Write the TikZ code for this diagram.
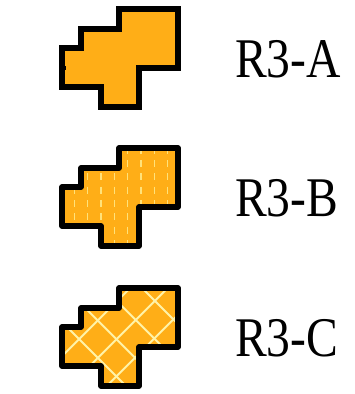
\documentclass[tikz,border=0pt]{standalone}
\usepackage{fontspec}
\setmainfont{Liberation Serif}
\definecolor{fillor}{HTML}{FFAE17}
\definecolor{dashy}{HTML}{FFE27A}
\definecolor{crossy}{HTML}{FFF3A8}
\tikzset{
  lab/.style={anchor=base west,inner sep=0pt,font=\fontsize{56}{56}\selectfont,xscale=.85},
  outlineA/.style={draw=black,line width=5.6pt,miter limit=10},
  outlineR/.style={draw=black,line width=5.6pt,line join=round},
  dashhatch/.style={dashy,line width=1.1pt,dash pattern=on 7pt off 6.33pt},
  crosshatch/.style={crossy,line width=2pt}
}
\def\blob{(62,48) -- (81,48) -- (81,29) -- (119,29) -- (119,9) -- (178,9) -- (178,68) -- (139,68) -- (139,107) -- (101,107) -- (101,87) -- (62,87) -- cycle}
\begin{document}
\begin{tikzpicture}[x=1pt,y=-1pt]
\useasboundingbox (0,0) rectangle (354,394);
% R3-A
\fill[fillor] \blob;
\draw[outlineA] \blob;
\fill[black] (58.7,66) rectangle (65.5,70);
\node[lab] (a) at (235,77) {R3-A};
% R3-B
\begin{scope}[yshift=-139pt]
\fill[fillor] \blob;
\begin{scope}
\clip \blob;
\foreach \x in {74.3,87.7,101,114.3,127.7,141,154.3,167.7}
  \draw[dashhatch] (\x,-5.8) -- (\x,112);
\end{scope}
\draw[outlineR] \blob;
\end{scope}
\node[lab] (b) at (235,216) {R3-B};
% R3-C
\begin{scope}[yshift=-279pt]
\fill[fillor] \blob;
\begin{scope}
\clip \blob;
\foreach \s in {139.3,176.7,213.7}
  \draw[crosshatch] (\s+20,-20) -- (\s-200,200);
\foreach \d in {19,56.3,94.7,133}
  \draw[crosshatch] (\d-20,-20) -- (\d+200,200);
\end{scope}
\draw[outlineR] \blob;
\end{scope}
\node[lab] (c) at (235,356) {R3-C};
\end{tikzpicture}
\end{document}
